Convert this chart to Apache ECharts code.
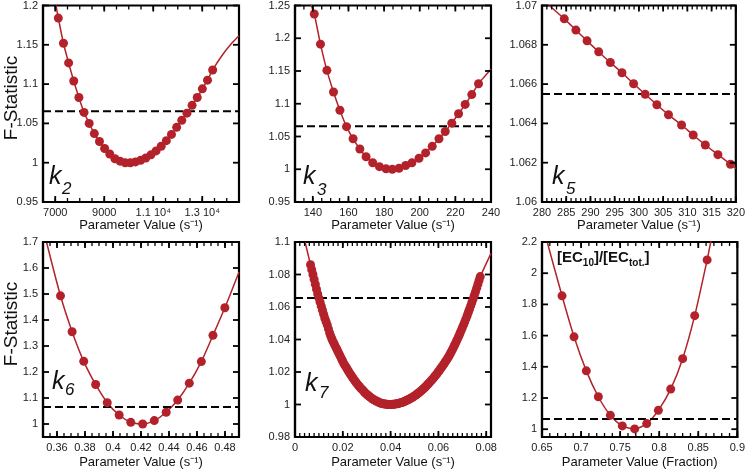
<!DOCTYPE html>
<html><head><meta charset="utf-8">
<script src="https://cdn.jsdelivr.net/npm/echarts@6/dist/echarts.min.js"></script>
<style>html,body{margin:0;padding:0;background:#fff}#c{width:748px;height:471px}</style>
</head><body><div id="c"></div>
<script>
// ---------- data ----------
const threshold = 1.0655;

const k2X = [7125,7335,7545,7755,7965,8175,8385,8595,8805,9015,9225,9435,9645,9855,10065,10275,10485,10695,10905,11115,11325,11535,11745,11955,12165,12375,12585,12795,13005,13215,13425];
const k2Y = [1.184,1.152,1.127,1.104,1.083,1.064,1.050,1.037,1.027,1.018,1.011,1.005,1.002,1.000,1.000,1.001,1.003,1.006,1.010,1.015,1.021,1.028,1.036,1.045,1.054,1.063,1.073,1.083,1.094,1.105,1.118];
const k2FitHead = [[7000,1.205]];
const k2FitTail = [[13800,1.136],[14150,1.150],[14500,1.1615]];
const k2XTicks = [7000,9000,11000,13000];
const k2YTicks = [0.95,1,1.05,1.1,1.15,1.2];

const k3X = [140.8,144.3,147.9,151.6,155.2,158.9,162.6,166.4,169.9,173.6,177.4,181.1,184.6,188.4,192.1,195.6,199.6,203.3,207.0,210.8,214.3,218.0,221.8,225.5,229.2,233.0];
const k3Y = [1.237,1.191,1.151,1.118,1.090,1.065,1.0465,1.031,1.019,1.010,1.004,1.0006,1.000,1.0015,1.0057,1.0098,1.0168,1.025,1.035,1.0465,1.0577,1.0704,1.0847,1.099,1.114,1.1306];
const k3FitHead = [[138.5,1.255]];
const k3FitTail = [[236.5,1.142],[240,1.153]];
const k3XTicks = [140,160,180,200,220,240];
const k3YTicks = [0.95,1,1.05,1.1,1.15,1.2,1.25];

const k5X = [284.6,287.0,289.3,291.7,294.1,296.5,298.9,301.3,303.7,306.1,308.8,311.2,313.7,316.3,318.9];
const k5Y = [1.06932,1.06875,1.0682,1.06764,1.0671,1.06658,1.06602,1.06548,1.06495,1.06444,1.06392,1.06341,1.0629,1.06241,1.06192];
const k5FitHead = [[281.5,1.0700]];
const k5FitTail = [[320,1.0617]];
const k5XTicks = [280,285,290,295,300,305,310,315,320];
const k5YTicks = [1.06,1.062,1.064,1.066,1.068,1.07];

const k6X = [0.3625,0.3708,0.3791,0.3876,0.3959,0.4044,0.4127,0.4212,0.4295,0.4380,0.4462,0.4545,0.4631,0.4714,0.4799];
const k6Y = [1.493,1.355,1.241,1.152,1.082,1.0345,1.0065,1.000,1.013,1.045,1.092,1.157,1.240,1.341,1.447];
const k6FitHead = [[0.3525,1.70]];
const k6FitTail = [[0.49,1.585]];
const k6XTicks = [0.36,0.38,0.4,0.42,0.44,0.46,0.48];
const k6YTicks = [1,1.1,1.2,1.3,1.4,1.5,1.6,1.7];

const k7X = [0.0065,0.0070,0.0075,0.0080,0.0085,0.0090,0.0095,0.0100,0.0105,0.0110,0.0115,0.0120,0.0125,0.0130,0.0135,0.0140,0.0145,0.0150,0.0155,0.0160,0.0165,0.0170,0.0175,0.0180,0.0185,0.0190,0.0195,0.0200,0.0205,0.0210,0.0215,0.0220,0.0225,0.0230,0.0235,0.0240,0.0245,0.0250,0.0255,0.0260,0.0265,0.0270,0.0275,0.0280,0.0285,0.0290,0.0295,0.0300,0.0305,0.0310,0.0315,0.0320,0.0325,0.0330,0.0335,0.0340,0.0345,0.0350,0.0355,0.0360,0.0365,0.0370,0.0375,0.0380,0.0385,0.0390,0.0395,0.0400,0.0405,0.0410,0.0415,0.0420,0.0425,0.0430,0.0435,0.0440,0.0445,0.0450,0.0455,0.0460,0.0465,0.0470,0.0475,0.0480,0.0485,0.0490,0.0495,0.0500,0.0505,0.0510,0.0515,0.0520,0.0525,0.0530,0.0535,0.0540,0.0545,0.0550,0.0555,0.0560,0.0565,0.0570,0.0575,0.0580,0.0585,0.0590,0.0595,0.0600,0.0605,0.0610,0.0615,0.0620,0.0625,0.0630,0.0635,0.0640,0.0645,0.0650,0.0655,0.0660,0.0665,0.0670,0.0675,0.0680,0.0685,0.0690,0.0695,0.0700,0.0705,0.0710,0.0715,0.0720,0.0725,0.0730,0.0735,0.0740,0.0745,0.0750,0.0755,0.0760,0.0765,0.0770,0.0775];
const k7Y = [1.086,1.083,1.080,1.077,1.074,1.071,1.068,1.0655,1.063,1.0605,1.058,1.0555,1.053,1.051,1.049,1.0465,1.044,1.042,1.040,1.0385,1.037,1.0355,1.034,1.0325,1.031,1.0295,1.028,1.0265,1.025,1.0238,1.0227,1.0214,1.0202,1.019,1.0179,1.0168,1.0158,1.0147,1.0137,1.0127,1.0118,1.0109,1.0101,1.0093,1.0085,1.0077,1.0070,1.0063,1.0057,1.0051,1.0045,1.0039,1.0034,1.0029,1.0025,1.0021,1.0018,1.0014,1.0011,1.0008,1.0006,1.0004,1.0003,1.0002,1.0001,1.0000,1.0000,1.0000,1.0000,1.0001,1.0002,1.0003,1.0004,1.0006,1.0008,1.0010,1.0012,1.0014,1.0017,1.0020,1.0024,1.0027,1.0031,1.0035,1.0039,1.0043,1.0048,1.0053,1.0058,1.0063,1.0069,1.0075,1.0081,1.0087,1.0094,1.0101,1.0108,1.0115,1.0123,1.0131,1.0139,1.0147,1.0156,1.0164,1.0173,1.0182,1.0192,1.0202,1.0212,1.0222,1.0232,1.0243,1.0254,1.0265,1.0276,1.0288,1.0300,1.0314,1.0328,1.0342,1.0357,1.0372,1.0388,1.0404,1.0420,1.0437,1.0455,1.0472,1.0490,1.0508,1.0527,1.0546,1.0566,1.0586,1.0607,1.0628,1.0649,1.0671,1.0693,1.0716,1.0739,1.0763,1.0787];
const k7FitHead = [[0.0042,1.100]];
const k7FitTail = [[0.082,1.093]];
const k7XTicks = [0,0.02,0.04,0.06,0.08];
const k7YTicks = [0.98,1,1.02,1.04,1.06,1.08,1.1];

const ecX = [0.6756,0.6910,0.7067,0.7221,0.7375,0.7528,0.7686,0.7840,0.7989,0.8147,0.8300,0.8454,0.8613];
const ecY = [1.855,1.592,1.374,1.208,1.089,1.021,1.002,1.036,1.121,1.257,1.452,1.728,2.085];
const ecFitHead = [[0.6545,2.24]];
const ecFitTail = [[0.8675,2.24]];
const ecXTicks = [0.65,0.7,0.75,0.8,0.85,0.9];
const ecYTicks = [1,1.2,1.4,1.6,1.8,2,2.2];

const xNameRate = 'Parameter Value (s\u207B\u00B9)';
const xNameFrac = 'Parameter Value (Fraction)';

// ---------- layout / style ----------
const FONT = '"Liberation Sans", Arial, Helvetica, sans-serif';
const RED = '#b3222a';
const INK = '#000';

const fmtK2 = v => v >= 10000 ? (v / 10000).toFixed(1) + ' 10\u2074' : String(v);

const panels = [
  {rect:{left:43,top:5,width:196,height:197}, xMin:6500,xMax:14500,xTicks:k2XTicks,xFmt:fmtK2,xMinor:500, yMin:0.95,yMax:1.2,yTicks:k2YTicks, xs:k2X,ys:k2Y,head:k2FitHead,tail:k2FitTail,name:xNameRate,gap:17},
  {rect:{left:295,top:5,width:196,height:197}, xMin:130,xMax:240,xTicks:k3XTicks,xMinor:5, yMin:0.95,yMax:1.25,yTicks:k3YTicks, xs:k3X,ys:k3Y,head:k3FitHead,tail:k3FitTail,name:xNameRate,gap:17},
  {rect:{left:542,top:5,width:196,height:197}, xMin:280,xMax:320,xTicks:k5XTicks,xMinor:1, yMin:1.06,yMax:1.07,yTicks:k5YTicks, xs:k5X,ys:k5Y,head:k5FitHead,tail:k5FitTail,name:xNameRate,gap:17},
  {rect:{left:43,top:242,width:196,height:195}, xMin:0.35,xMax:0.49,xTicks:k6XTicks,xMinor:0.005, yMin:0.95,yMax:1.7,yTicks:k6YTicks, xs:k6X,ys:k6Y,head:k6FitHead,tail:k6FitTail,name:xNameRate,gap:19},
  {rect:{left:295,top:242,width:196,height:195}, xMin:0,xMax:0.082,xTicks:k7XTicks,xMinor:0.002, yMin:0.98,yMax:1.1,yTicks:k7YTicks, xs:k7X,ys:k7Y,head:k7FitHead,tail:k7FitTail,name:xNameRate,gap:19},
  {rect:{left:542,top:242,width:196,height:195}, xMin:0.65,xMax:0.9,xTicks:ecXTicks,xMinor:0.01, yMin:0.95,yMax:2.2,yTicks:ecYTicks, xs:ecX,ys:ecY,head:ecFitHead,tail:ecFitTail,name:xNameFrac,gap:19}
];

function minorValues(p) {
  const out = [];
  for (let k = Math.ceil(p.xMin / p.xMinor - 1e-9); k * p.xMinor <= p.xMax + 1e-9; k++) out.push(+(k * p.xMinor).toFixed(6));
  return out;
}
// frame tick marks on all four sides, placed through the axes' own coordinate mapping
function tickRenderer(p) {
  return function (params, api) {
    const v = api.value(0), kind = api.value(1);
    const st = {stroke: INK, lineWidth: kind === 1 ? 1.3 : 1.8};
    if (kind < 2) {
      const len = kind === 0 ? 6 : 4;
      const b = api.coord([v, p.yMin]), t = api.coord([v, p.yMax]);
      return {type:'group', children:[
        {type:'line', shape:{x1:b[0], y1:b[1], x2:b[0], y2:b[1] - len}, style:st},
        {type:'line', shape:{x1:t[0], y1:t[1], x2:t[0], y2:t[1] + len}, style:st}]};
    }
    const l = api.coord([p.xMin, v]), r = api.coord([p.xMax, v]);
    return {type:'group', children:[
      {type:'line', shape:{x1:l[0], y1:l[1], x2:l[0] + 6, y2:l[1]}, style:st},
      {type:'line', shape:{x1:r[0], y1:r[1], x2:r[0] - 6, y2:r[1]}, style:st}]};
  };
}

const grid = [], xAxis = [], yAxis = [], series = [];
const lineAxis = {show:true,onZero:false,lineStyle:{color:INK,width:2.2}};
panels.forEach((p, i) => {
  grid.push(Object.assign({containLabel:false, show:true, borderColor:INK, borderWidth:2.2, backgroundColor:'transparent'}, p.rect));
  xAxis.push({type:'value', gridIndex:i, min:p.xMin, max:p.xMax, position:'bottom', splitLine:{show:false},
    name:p.name, nameLocation:'middle', nameGap:p.gap, nameMoveOverlap:false,
    nameTextStyle:{fontSize:13,color:'#111',fontFamily:FONT},
    axisLine:lineAxis, axisTick:{show:false},
    axisLabel:{show:true,customValues:p.xTicks,formatter:p.xFmt || (v => String(v)),margin:5,fontSize:11,color:'#222',fontFamily:FONT,hideOverlap:false}});
  yAxis.push({type:'value', gridIndex:i, min:p.yMin, max:p.yMax, position:'left', splitLine:{show:false},
    axisLine:lineAxis, axisTick:{show:false},
    axisLabel:{show:true,customValues:p.yTicks,formatter:v => String(v),margin:5,fontSize:11,color:'#222',fontFamily:FONT,hideOverlap:false}});

  const pts = p.xs.map((x, j) => [x, p.ys[j]]);
  series.push({type:'line', xAxisIndex:i, yAxisIndex:i, data:p.head.concat(pts, p.tail),
    smooth:0.25, symbol:'none', lineStyle:{color:RED,width:1.5}, z:2, clip:true, silent:true});
  series.push({type:'line', xAxisIndex:i, yAxisIndex:i, data:[[p.xMin,threshold],[p.xMax,threshold]],
    symbol:'none', lineStyle:{color:'#000',width:2,type:[8,4]}, z:3, silent:true});
  series.push({type:'scatter', xAxisIndex:i, yAxisIndex:i, data:pts, symbol:'circle', symbolSize:9,
    itemStyle:{color:RED,opacity:1}, z:4, silent:true});
  const tickData = p.xTicks.map(v => [v, 0])
    .concat(minorValues(p).map(v => [v, 1]))
    .concat(p.yTicks.map(v => [v, 2]));
  series.push({type:'custom', xAxisIndex:i, yAxisIndex:i, data:tickData, renderItem:tickRenderer(p),
    clip:false, z:10});
});

const kText = (x, y, t) => ({type:'text', x:x, y:y, style:{text:t, fontSize:25, fontStyle:'italic', fontFamily:FONT, fill:'#111', align:'left', verticalAlign:'middle'}});
const subText = (x, y, t) => ({type:'text', x:x, y:y, style:{text:t, fontSize:17, fontStyle:'italic', fontFamily:FONT, fill:'#111', align:'left', verticalAlign:'middle'}});
const fStat = y => ({type:'text', x:12, y:y, rotation:Math.PI/2, style:{text:'F-Statistic', fontSize:19, fontFamily:FONT, fill:'#111', align:'center', verticalAlign:'middle'}});

const graphic = [
  fStat(98), fStat(324),
  kText(49,177,'k'), subText(62,189,'2'),
  kText(303,177,'k'), subText(317,190,'3'),
  kText(552,177,'k'), subText(566,189,'5'),
  kText(52,382,'k'), subText(65,390,'6'),
  kText(305,384,'k'), subText(319,393,'7'),
  {type:'text', x:557, y:258, style:{
    text:'{b|[EC}{s|10}{b|]/[EC}{s|tot.}{b|]}', fill:'#111', verticalAlign:'middle', align:'left',
    rich:{b:{fontSize:15,fontWeight:'bold',fontFamily:FONT,lineHeight:20,verticalAlign:'middle',fill:'#111'},
          s:{fontSize:10,fontWeight:'bold',fontFamily:FONT,lineHeight:10,verticalAlign:'bottom',fill:'#111'}}}}
];

const chart = echarts.init(document.getElementById('c'), null, {renderer:'canvas'});
chart.setOption({backgroundColor:'#fff', animation:false, grid, xAxis, yAxis, series, graphic});
</script></body></html>
